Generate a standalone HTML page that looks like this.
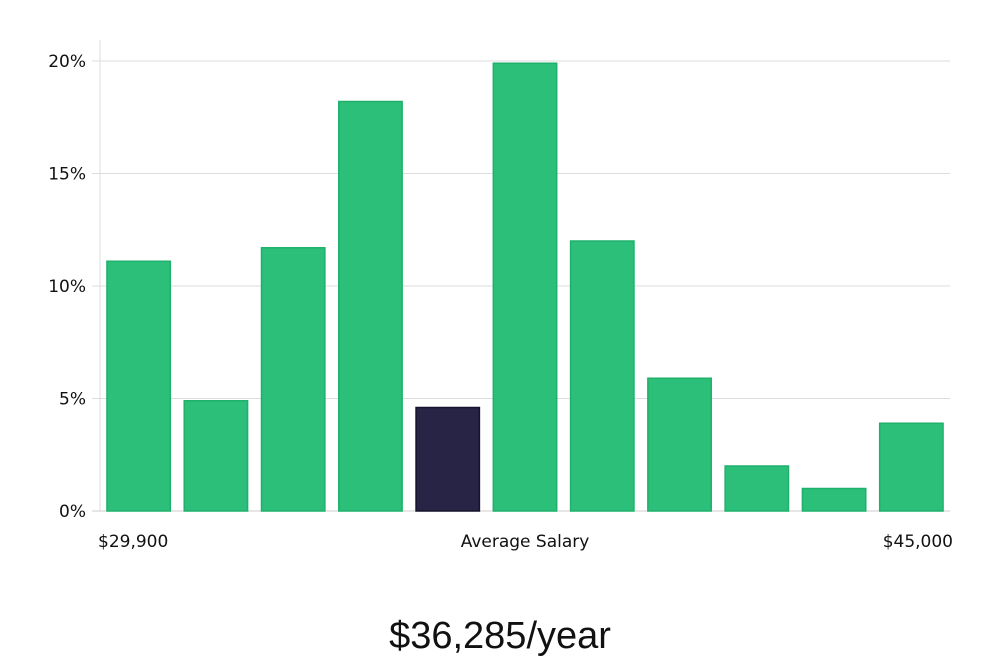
<!DOCTYPE html>
<html><head><meta charset="utf-8"><style>
html,body{margin:0;padding:0;background:#fff;width:1000px;height:660px;overflow:hidden}
svg text{font-family:"DejaVu Sans","Liberation Sans",sans-serif;fill:#111}
</style></head><body>
<svg id="chart" width="1000" height="660" viewBox="0 0 1000 660" xmlns="http://www.w3.org/2000/svg">
<g id="grid"></g>
<g id="yaxis"></g>
<g id="bars"></g>
<text x="98" y="547" font-size="17">$29,900</text>
<text x="525" y="547" font-size="17" text-anchor="middle">Average Salary</text>
<text x="953" y="547" font-size="17" text-anchor="end">$45,000</text>
<text x="500" y="648" font-size="38" text-anchor="middle" style="font-family:'Liberation Sans',sans-serif;font-weight:300;fill:#111">$36,285/year</text>
</svg>
<script>
const values = [11.1, 4.9, 11.7, 18.2, 4.6, 19.9, 12.0, 5.9, 2.0, 1.0, 3.9];
const highlight = [false, false, false, false, true, false, false, false, false, false, false];
const yTicks = [0, 5, 10, 15, 20];
const yTickLabels = ["0%", "5%", "10%", "15%", "20%"];
const NS = "http://www.w3.org/2000/svg";
const plotLeft = 100, plotRight = 950, plotBottom = 511, plotTop = 61, yMax = 20;
function y(v){ return plotBottom - v / yMax * (plotBottom - plotTop); }
const step = (plotRight - plotLeft) / values.length;
const barW = step * 0.82;
function x(i){ return plotLeft + i * step + (step - barW) / 2; }
const grid = document.getElementById('grid');
const yaxis = document.getElementById('yaxis');
const axis = document.createElementNS(NS, 'line');


axis.setAttribute('x1', plotLeft); axis.setAttribute('x2', plotLeft);
axis.setAttribute('y1', 40); axis.setAttribute('y2', plotBottom);
axis.setAttribute('stroke', '#ddd');
yaxis.appendChild(axis);
yTicks.forEach((t, i) => {
  const gl = document.createElementNS(NS, 'line');
  
  
  gl.setAttribute('x1', plotLeft - 8); gl.setAttribute('x2', plotRight);
  gl.setAttribute('y1', y(t)); gl.setAttribute('y2', y(t));
  gl.setAttribute('stroke', t === 0 ? '#ccc' : '#ddd');
  grid.appendChild(gl);
  const tx = document.createElementNS(NS, 'text');
  
  
  tx.setAttribute('x', 86); tx.setAttribute('y', y(t) + 6);
  tx.setAttribute('text-anchor', 'end'); tx.setAttribute('font-size', '17');
  tx.textContent = yTickLabels[i];
  yaxis.appendChild(tx);
});
const bars = document.getElementById('bars');
values.forEach((v, i) => {
  const r = document.createElementNS(NS, 'rect');
  
  
  r.setAttribute('x', x(i)); r.setAttribute('y', y(v));
  r.setAttribute('width', barW); r.setAttribute('height', plotBottom - y(v));
  r.setAttribute('fill', highlight[i] ? '#272445' : '#2bbf7a');
  r.setAttribute('stroke', highlight[i] ? '#15132b' : '#1fb06c');
  r.setAttribute('stroke-width', '1.5');
  bars.appendChild(r);
});
</script>
</body></html>
